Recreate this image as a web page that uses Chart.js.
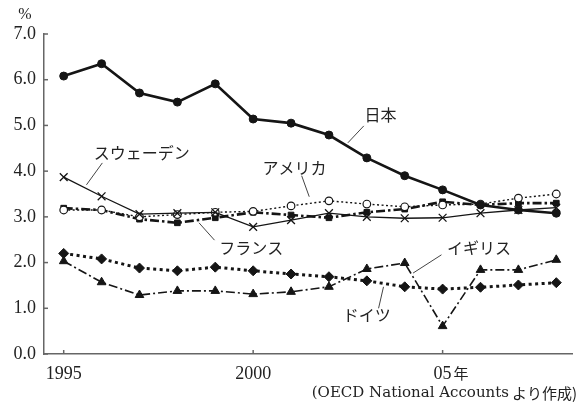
<!doctype html>
<html>
  <head>
    <meta charset="utf-8">
    <title>Labour cost share</title>
    <style>
      body { margin: 0; background: #fff; }
      #wrap { width: 579px; height: 407px; }
    </style>
  </head>
  <body>
    <div id="wrap"><canvas id="line_chart" width="579" height="407"></canvas></div>
  </body>
  <script src="https://cdn.jsdelivr.net/npm/chart.js"></script>
  <script>
    // years on the x axis
    const years = [1995, 1996, 1997, 1998, 1999, 2000, 2001, 2002, 2003, 2004, 2005, 2006, 2007, 2008];
    const xTickYears = [1995, 2000, 2005];
    const yTicks = [0, 1, 2, 3, 4, 5, 6, 7];

    // values (%)
    const japan   = [6.08, 6.35, 5.71, 5.51, 5.91, 5.14, 5.05, 4.79, 4.29, 3.90, 3.59, 3.26, 3.15, 3.08];
    const sweden  = [3.87, 3.45, 3.06, 3.08, 3.10, 2.78, 2.93, 3.08, 3.00, 2.97, 2.98, 3.08, 3.15, 3.20];
    const america = [3.15, 3.15, 3.00, 3.05, 3.10, 3.12, 3.24, 3.35, 3.28, 3.22, 3.26, 3.28, 3.41, 3.50];
    const france  = [3.19, 3.15, 2.95, 2.87, 2.98, 3.10, 3.04, 2.98, 3.10, 3.17, 3.33, 3.26, 3.30, 3.30];
    const germany = [2.20, 2.08, 1.88, 1.82, 1.90, 1.82, 1.75, 1.69, 1.60, 1.47, 1.42, 1.46, 1.51, 1.56];
    const uk      = [2.03, 1.57, 1.29, 1.38, 1.38, 1.31, 1.36, 1.47, 1.86, 1.99, 0.61, 1.84, 1.84, 2.06];

    // callout labels: text, text centre, leader line (data units)
    const callouts = [
      { text: '日本', at: [2003.36, 5.23], from: [2002.92, 4.99], to: [2002.5, 4.62] },
      { text: 'スウェーデン', at: [1997.06, 4.40], from: [1996.02, 4.18], to: [1995.6, 3.70] },
      { text: 'アメリカ', at: [2001.09, 4.07], from: [2001.28, 3.90], to: [2001.48, 3.44] },
      { text: 'フランス', at: [1999.95, 2.32], from: [1998.98, 2.49], to: [1998.57, 2.87] },
      { text: 'イギリス', at: [2005.96, 2.32], from: [2004.97, 2.17], to: [2004.22, 1.77] },
      { text: 'ドイツ', at: [2003.0, 0.85], from: [2003.31, 1.00], to: [2003.44, 1.47] },
    ];

    const ink = '#151515';
    const serif = '"Liberation Serif", "DejaVu Serif", serif';
    const jp = '"Noto Sans CJK JP", sans-serif';

    function pts(values) {
      return years.map((y, i) => ({ x: y, y: values[i] }));
    }

    const extras = {
      id: 'extras',
      afterDraw(chart) {
        const ctx = chart.ctx;
        const xs = chart.scales.x;
        const ys = chart.scales.y;
        const area = chart.chartArea;
        ctx.save();
        // inward tick marks
        ctx.strokeStyle = '#666';
        ctx.lineWidth = 1.5;
        yTicks.forEach(v => {
          const py = ys.getPixelForValue(v);
          ctx.beginPath(); ctx.moveTo(area.left, py); ctx.lineTo(area.left + 4, py); ctx.stroke();
        });
        xTickYears.forEach(v => {
          const px = xs.getPixelForValue(v);
          ctx.beginPath(); ctx.moveTo(px, area.bottom); ctx.lineTo(px, area.bottom - 4); ctx.stroke();
        });
        // unit
        ctx.fillStyle = '#222';
        ctx.font = '16px ' + serif;
        ctx.textAlign = 'center';
        ctx.textBaseline = 'middle';
        ctx.fillText('%', 25, 15);
        // "年" after the 05 tick label
        ctx.font = '18px ' + serif;
        const w05 = ctx.measureText('05').width;
        ctx.font = '15px ' + jp;
        ctx.textAlign = 'left';
        ctx.fillText('年', xs.getPixelForValue(2005) + w05 / 2 + 2, area.bottom + 19);
        // source: latin part in a wide serif, japanese part after it
        const srcJp = 'より作成)';
        ctx.font = '15px ' + jp;
        const wJp = ctx.measureText(srcJp).width;
        ctx.textAlign = 'right';
        ctx.fillText(srcJp, 577, 393);
        ctx.font = '15px "DejaVu Serif", serif';
        ctx.fillText('(OECD National Accounts', 577 - wJp - 3, 393);
        // callouts
        callouts.forEach(c => {
          ctx.strokeStyle = '#444';
          ctx.lineWidth = 1;
          ctx.beginPath();
          ctx.moveTo(xs.getPixelForValue(c.from[0]), ys.getPixelForValue(c.from[1]));
          ctx.lineTo(xs.getPixelForValue(c.to[0]), ys.getPixelForValue(c.to[1]));
          ctx.stroke();
          ctx.font = '16px ' + jp;
          ctx.textAlign = 'center';
          ctx.fillStyle = '#222';
          ctx.fillText(c.text, xs.getPixelForValue(c.at[0]), ys.getPixelForValue(c.at[1]));
        });
        ctx.restore();
      }
    };

    const line = document.getElementById('line_chart');
    const lineChart = new Chart(line, {
      type: 'line',
      data: {
        datasets: [
          { label: '日本', data: pts(japan), borderColor: ink, backgroundColor: ink, borderWidth: 2.6,
            pointStyle: 'circle', pointRadius: 4, pointBorderWidth: 1 },
          { label: 'スウェーデン', data: pts(sweden), borderColor: ink, backgroundColor: ink, borderWidth: 1.3,
            pointStyle: 'crossRot', pointRadius: 5.5, pointBorderWidth: 1.3 },
          { label: 'アメリカ', data: pts(america), borderColor: ink, backgroundColor: '#fff', borderWidth: 1.4,
            borderDash: [2, 2.5], pointStyle: 'circle', pointRadius: 3.8, pointBorderWidth: 1.2 },
          { label: 'フランス', data: pts(france), borderColor: ink, backgroundColor: ink, borderWidth: 2.6,
            borderDash: [9, 3, 2.5, 3], pointStyle: 'rect', pointRadius: 4, pointBorderWidth: 1 },
          { label: 'ドイツ', data: pts(germany), borderColor: ink, backgroundColor: ink, borderWidth: 3,
            borderDash: [3, 3.5], pointStyle: 'rectRot', pointRadius: 5, pointBorderWidth: 1 },
          { label: 'イギリス', data: pts(uk), borderColor: ink, backgroundColor: ink, borderWidth: 1.6,
            borderDash: [9, 3, 2, 3], pointStyle: 'triangle', pointRadius: 5, pointBorderWidth: 1 },
        ]
      },
      options: {
        responsive: false,
        animation: false,
        devicePixelRatio: 1,
        layout: { padding: { top: 34, right: 0, left: 0, bottom: 0 } },
        plugins: { legend: { display: false }, tooltip: { enabled: false } },
        scales: {
          x: {
            type: 'linear',
            min: 1994.48,
            max: 2008.42,
            afterBuildTicks: scale => { scale.ticks = xTickYears.map(v => ({ value: v })); },
            afterFit: scale => { scale.height = 53; },
            grid: { display: false, drawTicks: false },
            border: { display: true, color: '#666', width: 1.5 },
            ticks: {
              padding: 9,
              maxRotation: 0,
              autoSkip: false,
              color: '#222',
              font: { family: serif, size: 18 },
              callback: v => v === 2005 ? '05' : String(v)
            }
          },
          y: {
            min: 0,
            max: 7,
            afterFit: scale => { scale.width = 44; },
            grid: { display: false, drawTicks: false },
            border: { display: true, color: '#666', width: 1.5 },
            ticks: {
              stepSize: 1,
              padding: 8,
              color: '#222',
              font: { family: serif, size: 18 },
              callback: v => v.toFixed(1)
            }
          }
        }
      },
      plugins: [extras]
    });
  </script>
</html>
